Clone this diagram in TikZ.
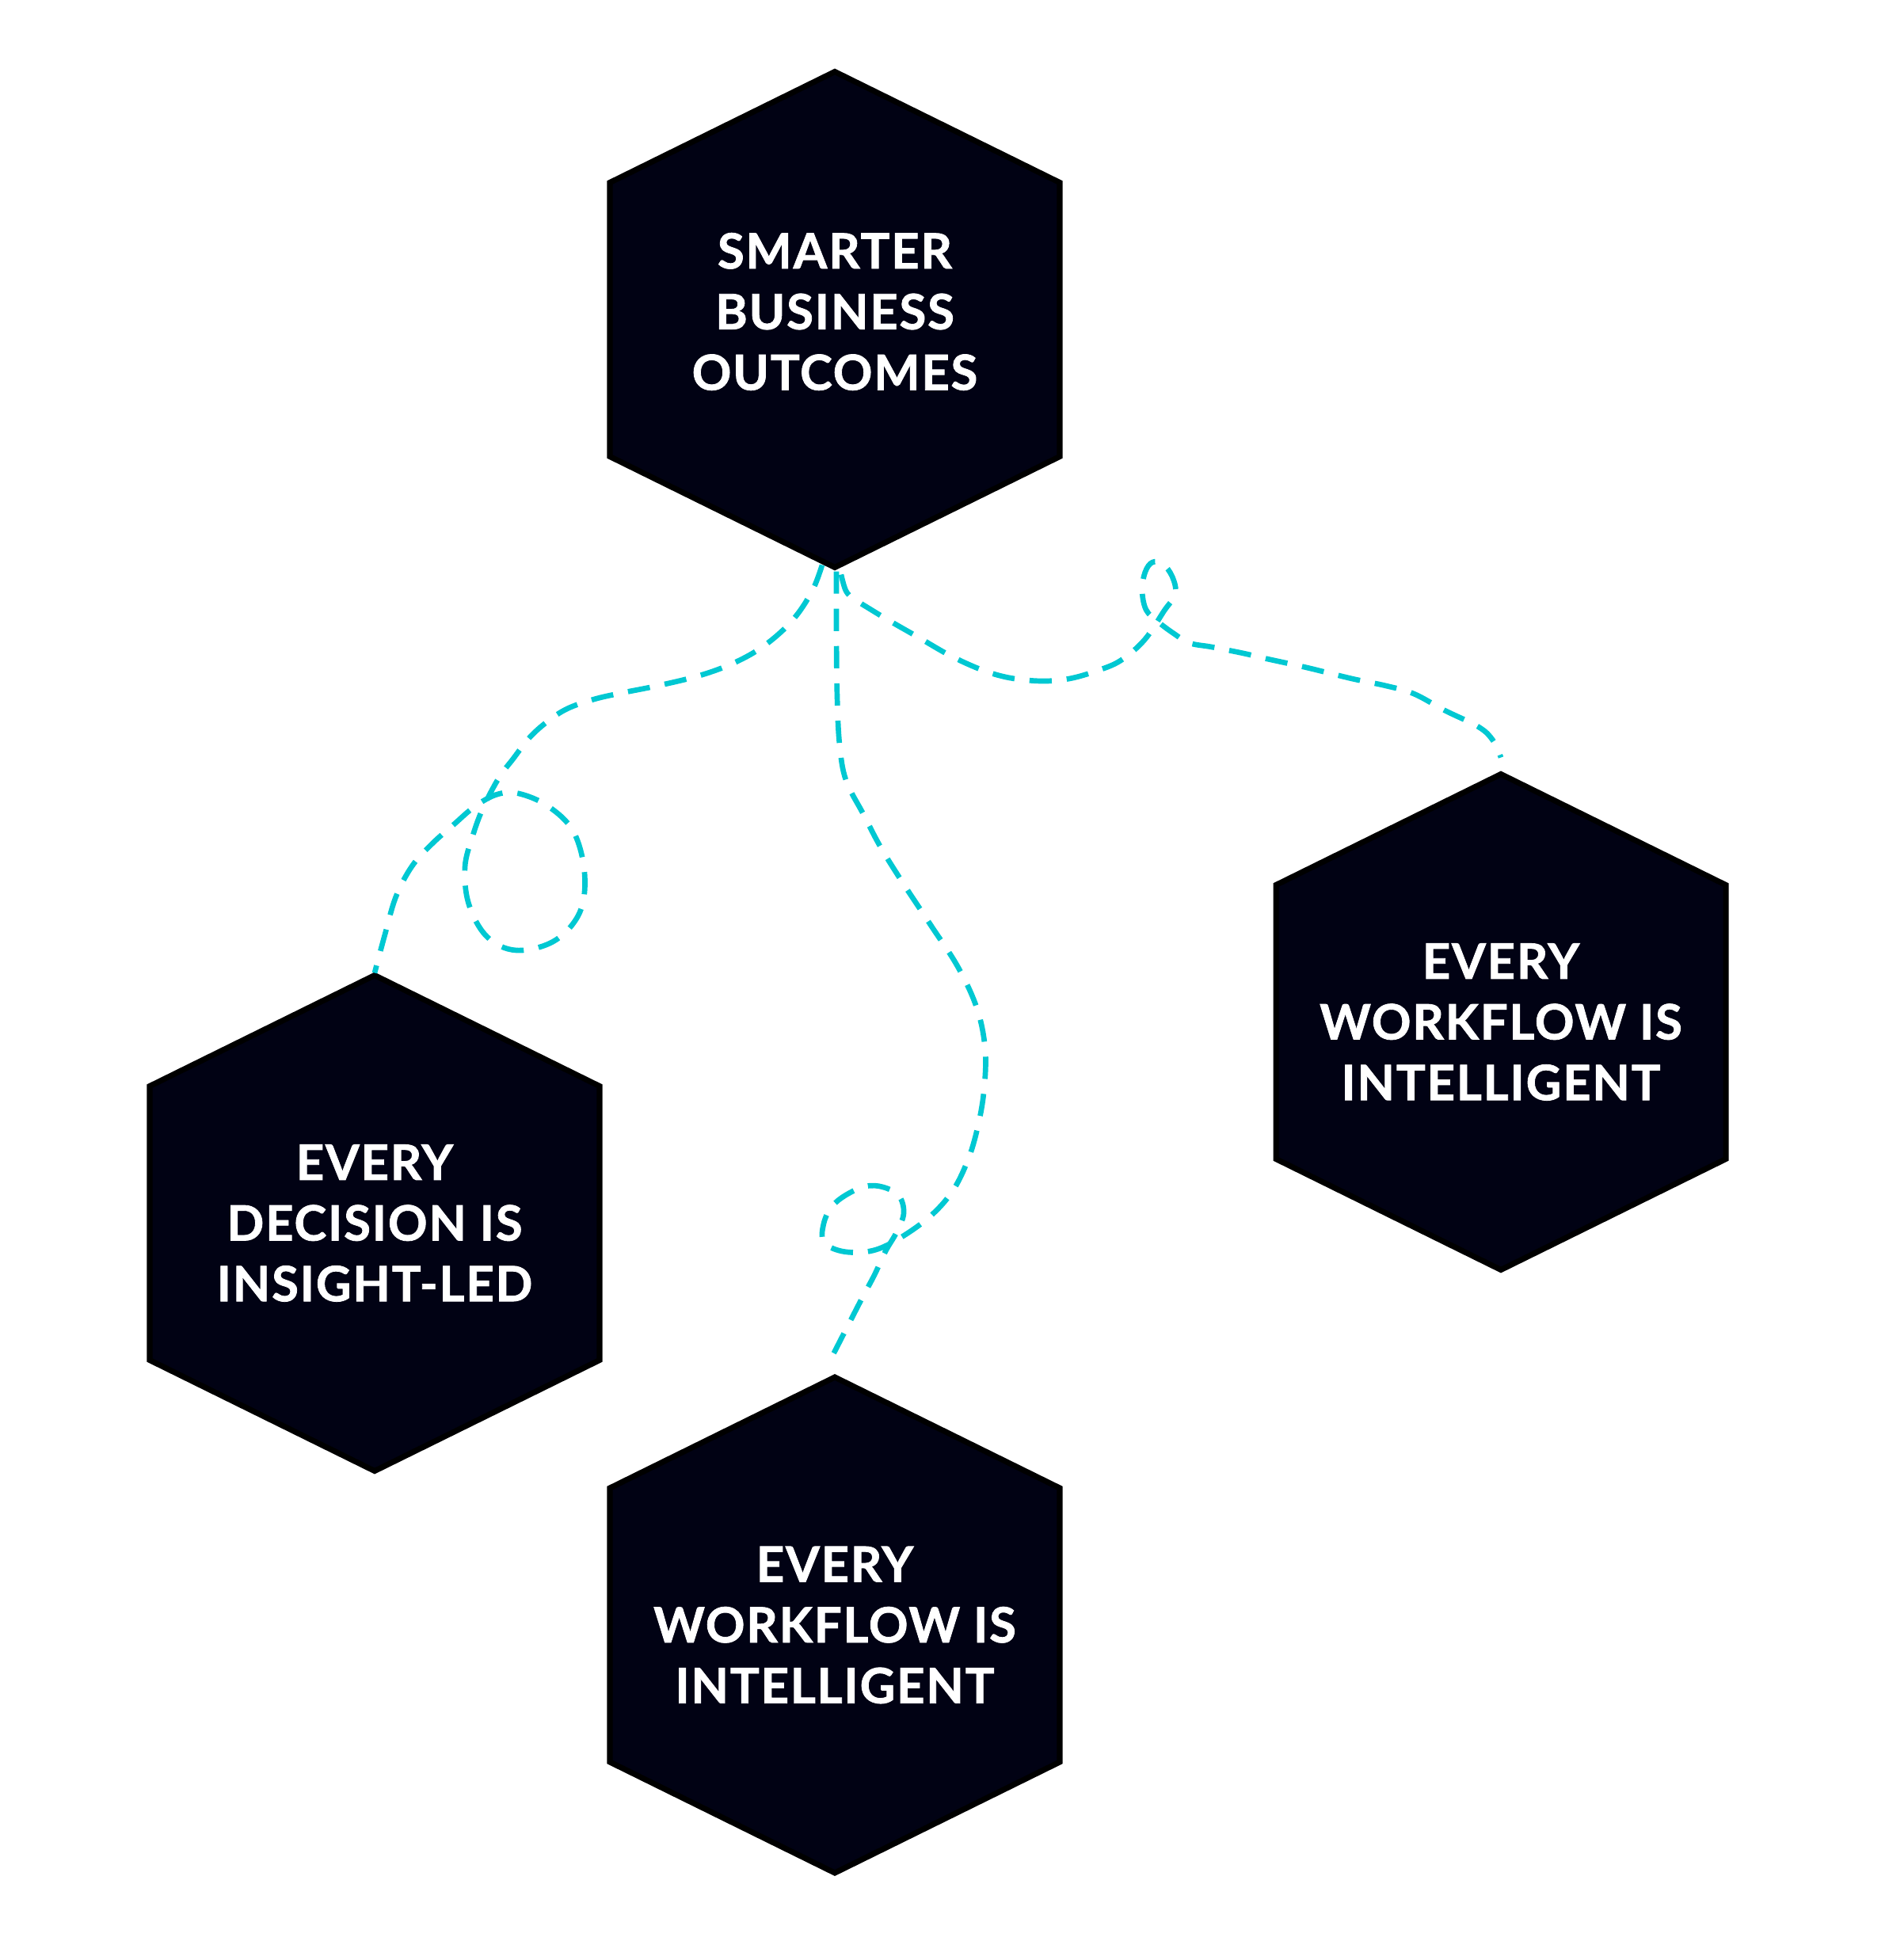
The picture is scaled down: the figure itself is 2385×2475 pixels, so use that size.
\documentclass[tikz,border=0pt]{standalone}
\usepackage{fontspec}
\setmainfont{Lato}[BoldFeatures={FakeBold=1.3}, LetterSpace=3]
\usetikzlibrary{calc}
\definecolor{hexnavy}{RGB}{1,2,20}
\definecolor{trailcyan}{RGB}{0,200,210}

\tikzset{
  hexshape/.style={fill=hexnavy, draw=black, line width=2pt, line join=miter},
  hextext/.style={text=white, font=\fontsize{17.5}{21.8}\selectfont\bfseries, align=center},
  trail/.style={draw=trailcyan, line width=1.9pt, dash pattern=on 8pt off 5.4pt}
}

%% hexagon cell: [text shift]{name}{x}{y}{text}
\newcommand{\hexcell}[5][0]{%
  \coordinate (#2) at (#3,#4);
  \draw[hexshape] ($(#2)+(0,-313)$) -- ++(284,140) -- ++(0,346) -- ++(-284,140)
    -- ++(-284,-140) -- ++(0,-346) -- cycle;
  \coordinate (#2-top) at ($(#2)+(0,-316)$);
  \coordinate (#2-bot) at ($(#2)+(0,316)$);
  \node[hextext] (#2-label) at ($(#2)+(0,#1)$) {#5};
}

\begin{document}
\begin{tikzpicture}[x=0.01cm, y=-0.01cm]
    \useasboundingbox (0,0) rectangle (2385,2475);

    %% Hexagons
    \hexcell[-10]{smart}{1054}{403.5}{SMARTER\\BUSINESS\\OUTCOMES}
    \hexcell{decide}{473}{1544.5}{EVERY\\DECISION IS\\INSIGHT-LED}
    \hexcell{flowright}{1895}{1290.5}{EVERY\\WORKFLOW IS\\INTELLIGENT}
    \hexcell{flowdown}{1054}{2052}{EVERY\\WORKFLOW IS\\INTELLIGENT}

    %% Trail ends
    \coordinate (trailA) at ($(smart-bot)+(-16,-6)$);
    \coordinate (trailB) at ($(smart-bot)+(2,2)$);
    \coordinate (trailC) at ($(smart-bot)+(8,6)$);
    \coordinate (endB) at ($(flowdown-top)+(-5,-20)$);
    \coordinate (endC) at ($(flowright-top)+(0,-18)$);

    %% Trail to the left cell, with a loop
    \draw[trail] plot[smooth, tension=0.6] coordinates {(trailA) (1027,743) (1008,774)
      (985,799) (955,822) (920,840) (880,854) (830,866) (785,875) (750,883) (716,895)
      (690,912) (668,932) (648,958) (630,982) (610,1020) (597,1055) (587,1095) (592,1142)
      (615,1183) (652,1200) (700,1188) (732,1152) (738,1102) (724,1050) (692,1018)
      (655,1002) (628,1003) (600,1018) (572,1042) (545,1066) (520,1094) (500,1132)
      (486,1180) (decide-top)};

    %% Trail to the lower cell, with a small loop
    \draw[trail] plot[smooth, tension=0.6] coordinates {(trailB) (1056,800) (1057,880)
      (1060,940) (1068,985) (1090,1028) (1112,1070) (1140,1115) (1175,1168) (1210,1222)
      (1234,1275) (1244,1327) (1242,1380) (1234,1425) (1222,1465) (1202,1505) (1172,1538)
      (1130,1567) (1098,1580) (1063,1580) (1040,1568) (1040,1545) (1050,1524) (1068,1509)
      (1093,1498) (1115,1499) (1135,1510) (1141,1532) (1132,1556) (1118,1580) (1104,1610)
      (1088,1640) (1070,1675) (endB)};

    %% Trail to the right cell, with a narrow loop
    \draw[trail] plot[smooth, tension=0.6] coordinates {(trailC) (1068,746) (1078,756)
      (1100,770) (1125,785) (1160,805) (1200,828) (1240,846) (1275,856) (1315,860)
      (1350,857) (1385,847) (1415,834) (1445,808) (1470,771) (1484,750) (1480,728)
      (1468,712) (1455,710) (1446,722) (1442,745) (1447,770) (1462,785) (1482,800)
      (1502,812) (1530,817) (1570,825) (1600,832) (1650,843) (1707,857) (1750,866)
      (1785,876) (1824,897) (1867,918) (1885,935) (endC)};
\end{tikzpicture}
\end{document}
